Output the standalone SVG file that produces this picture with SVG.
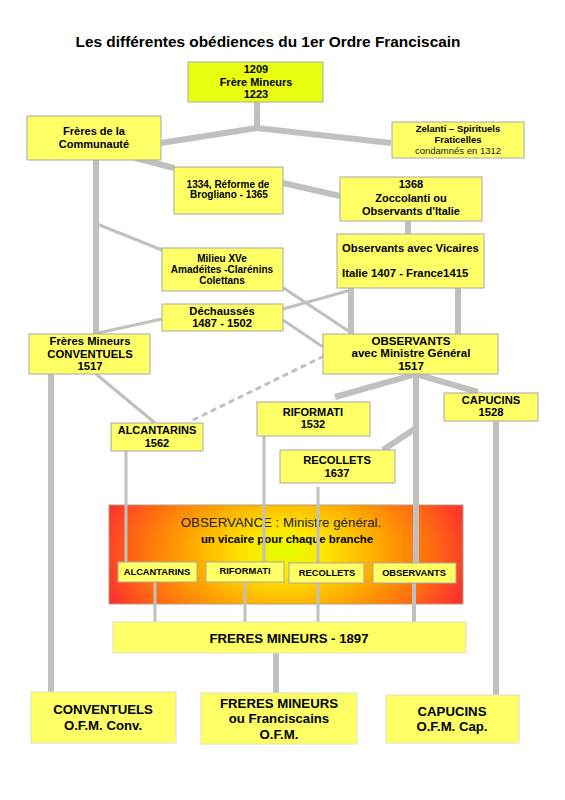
<svg xmlns="http://www.w3.org/2000/svg" width="565" height="800" viewBox="0 0 565 800">
<defs>
<radialGradient id="obsGrad" gradientUnits="userSpaceOnUse" cx="285" cy="552" r="190" gradientTransform="translate(285 552) scale(1 0.62) translate(-285 -552)">
<stop offset="0" stop-color="#E2FF00"/>
<stop offset="0.22" stop-color="#FFE400"/>
<stop offset="0.5" stop-color="#FFA800"/>
<stop offset="0.78" stop-color="#FF6A10"/>
<stop offset="1" stop-color="#FF3030"/>
</radialGradient>
</defs>
<style>
.box{fill:#FFFF66;stroke:#a8a8a8;stroke-width:1}
.box2{fill:#FFFF66;stroke:#e0e0c0;stroke-width:1}
.top{fill:#E8FF10;stroke:#a8a8a8;stroke-width:1}
.t{font-family:"Liberation Sans",Arial,sans-serif;font-weight:bold;text-anchor:middle;fill:#000}
.n{font-family:"Liberation Sans",Arial,sans-serif;font-weight:normal;text-anchor:middle;fill:#222}
.c{stroke:#c0c0c0;fill:none}
.k{stroke-width:6}
.h{stroke-width:3}
.d{stroke-width:3;stroke-dasharray:6 4}
</style>
<rect width="565" height="800" fill="#ffffff"/>
<text class="t" x="268" y="47" font-size="15.4">Les différentes obédiences du 1er Ordre Franciscain</text>

<g id="observance">
<rect x="109" y="505" width="354" height="99" fill="url(#obsGrad)" stroke="#b0a080" stroke-width="1"/>
<text class="n" x="281" y="527" font-size="13.3" fill="#333">OBSERVANCE : Ministre général.</text>
<text class="t" x="287" y="543" font-size="11.4">un vicaire pour chaque branche</text>
</g>

<g id="connectors">
<polyline class="c k" points="161,143 257,128 391,143"/>
<line class="c k" x1="257" y1="102" x2="257" y2="128"/>
<line class="c k" x1="135" y1="158" x2="174" y2="168"/>
<line class="c k" x1="283" y1="183" x2="340" y2="196"/>
<line class="c k" x1="408" y1="221" x2="408" y2="234"/>
<line class="c k" x1="96" y1="160" x2="96" y2="334"/>
<line class="c h" x1="97" y1="224" x2="162" y2="250"/>
<line class="c h" x1="98" y1="333" x2="162" y2="319"/>
<line class="c h" x1="283" y1="309" x2="351" y2="290"/>
<line class="c k" x1="351" y1="288" x2="351" y2="334"/>
<line class="c k" x1="458" y1="288" x2="458" y2="334"/>
<line class="c h" x1="282" y1="287" x2="353" y2="334"/>
<line class="c h" x1="283" y1="320" x2="323" y2="347"/>
<line class="c d" x1="324" y1="356" x2="189" y2="422"/>
<line class="c h" x1="96" y1="374" x2="155" y2="423"/>
<line class="c k" x1="51" y1="374" x2="51" y2="692"/>
<polyline class="c k" points="335,397 416,374 478,392"/>
<line class="c k" x1="416" y1="374" x2="416" y2="563"/>
<line class="c k" x1="416" y1="428" x2="383" y2="450"/>
<line class="c k" x1="496" y1="421" x2="496" y2="697"/>
<line class="c h" x1="126" y1="451" x2="126" y2="562"/>
<line class="c h" x1="264" y1="436" x2="264" y2="562"/>
<line class="c h" x1="318" y1="487" x2="318" y2="563"/>
<line class="c h" x1="155" y1="582" x2="155" y2="622"/>
<line class="c h" x1="245" y1="582" x2="245" y2="622"/>
<line class="c h" x1="318" y1="583" x2="318" y2="624"/>
<line class="c" stroke-width="4" x1="414" y1="583" x2="414" y2="622"/>
<line class="c k" x1="276" y1="653" x2="276" y2="693"/>
</g>

<g id="n1209">
<rect class="top" x="188" y="62" width="135" height="40"/>
<text class="t" x="256" y="73" font-size="11">1209</text>
<text class="t" x="256" y="86" font-size="11">Frère Mineurs</text>
<text class="t" x="256" y="98" font-size="11">1223</text>
</g>
<g id="communaute">
<rect class="box" x="27" y="116" width="134" height="44"/>
<text class="t" x="94" y="135" font-size="11">Frères de la</text>
<text class="t" x="94" y="148" font-size="11">Communauté</text>
</g>
<g id="zelanti">
<rect class="box" x="392" y="122" width="132" height="36"/>
<text class="t" x="458" y="132" font-size="9.5">Zelanti – Spirituels</text>
<text class="t" x="458" y="143" font-size="9.5">Fraticelles</text>
<text class="n" x="458" y="154" font-size="9.5">condamnés en 1312</text>
</g>
<g id="brogliano">
<rect class="box" x="174" y="167" width="109" height="47"/>
<text class="t" x="228" y="188" font-size="10">1334, Réforme de</text>
<text class="t" x="229" y="198" font-size="10">Brogliano - 1365</text>
</g>
<g id="zoccolanti">
<rect class="box" x="340" y="177" width="142" height="44"/>
<text class="t" x="411" y="188" font-size="11">1368</text>
<text class="t" x="411" y="202" font-size="11">Zoccolanti  ou</text>
<text class="t" x="411" y="215" font-size="11">Observants d'Italie</text>
</g>
<g id="vicaires">
<rect class="box" x="337" y="234" width="147" height="54"/>
<text class="t" x="342" y="252" font-size="11.3" style="text-anchor:start">Observants avec Vicaires</text>
<text class="t" x="342" y="277" font-size="11.3" style="text-anchor:start">Italie 1407  - France1415</text>
</g>
<g id="milieu">
<rect class="box" x="162" y="248" width="121" height="43"/>
<text class="t" x="222" y="262" font-size="10">Milieu XVe</text>
<text class="t" x="222" y="273" font-size="10">Amadéites -Clarénins</text>
<text class="t" x="222" y="284" font-size="10">Colettans</text>
</g>
<g id="dechausses">
<rect class="box" x="162" y="304" width="121" height="27"/>
<text class="t" x="222" y="314.5" font-size="11.2">Déchaussés</text>
<text class="t" x="222" y="327" font-size="11.2">1487 - 1502</text>
</g>
<g id="conventuels1517">
<rect class="box" x="29" y="334" width="121" height="40"/>
<text class="t" x="90" y="345" font-size="11.3">Frères Mineurs</text>
<text class="t" x="90" y="358" font-size="11.3">CONVENTUELS</text>
<text class="t" x="90" y="370" font-size="11.3">1517</text>
</g>
<g id="observants1517">
<rect class="box" x="323" y="334" width="175" height="40"/>
<text class="t" x="411" y="345" font-size="11.5">OBSERVANTS</text>
<text class="t" x="411" y="357" font-size="11.5">avec Ministre Général</text>
<text class="t" x="411" y="370" font-size="11.5">1517</text>
</g>
<g id="capucins1528">
<rect class="box" x="444" y="393" width="94" height="28"/>
<text class="t" x="491" y="404" font-size="11.2">CAPUCINS</text>
<text class="t" x="491" y="416" font-size="11.2">1528</text>
</g>
<g id="riformati1532">
<rect class="box" x="257" y="402" width="113" height="34"/>
<text class="t" x="313" y="416" font-size="11">RIFORMATI</text>
<text class="t" x="313" y="428" font-size="11">1532</text>
</g>
<g id="alcantarins1562">
<rect class="box" x="111" y="423" width="92" height="28"/>
<text class="t" x="157" y="434" font-size="11">ALCANTARINS</text>
<text class="t" x="157" y="447" font-size="11">1562</text>
</g>
<g id="recollets1637">
<rect class="box" x="280" y="450" width="115" height="33"/>
<text class="t" x="337" y="464" font-size="11.2">RECOLLETS</text>
<text class="t" x="337" y="477" font-size="11.2">1637</text>
</g>
<g id="in-alcantarins">
<rect class="box" x="118" y="562" width="79" height="20"/>
<text class="t" x="157" y="575" font-size="9.3">ALCANTARINS</text>
</g>
<g id="in-riformati">
<rect class="box" x="206" y="562" width="78" height="20"/>
<text class="t" x="245" y="574" font-size="9.3">RIFORMATI</text>
</g>
<g id="in-recollets">
<rect class="box" x="289" y="563" width="75" height="20"/>
<text class="t" x="327" y="576" font-size="9.3">RECOLLETS</text>
</g>
<g id="in-observants">
<rect class="box" x="373" y="563" width="83" height="20"/>
<text class="t" x="414" y="576" font-size="9.3">OBSERVANTS</text>
</g>
<g id="freres1897">
<rect class="box2" x="113" y="622" width="353" height="31"/>
<text class="t" x="289" y="643" font-size="13.2">FRERES MINEURS - 1897</text>
</g>
<g id="conv-ofm">
<rect class="box2" x="31" y="692" width="145" height="51"/>
<text class="t" x="103" y="714" font-size="13.2">CONVENTUELS</text>
<text class="t" x="103" y="730" font-size="13.2">O.F.M. Conv.</text>
</g>
<g id="ofm">
<rect class="box2" x="201" y="693" width="156" height="51"/>
<text class="t" x="279" y="708" font-size="13.2">FRERES MINEURS</text>
<text class="t" x="279" y="723" font-size="13.2">ou Franciscains</text>
<text class="t" x="279" y="739" font-size="13.2">O.F.M.</text>
</g>
<g id="cap-ofm">
<rect class="box2" x="386" y="695" width="133" height="48"/>
<text class="t" x="452" y="716" font-size="13.2">CAPUCINS</text>
<text class="t" x="452" y="731" font-size="13.2">O.F.M. Cap.</text>
</g>
</svg>
